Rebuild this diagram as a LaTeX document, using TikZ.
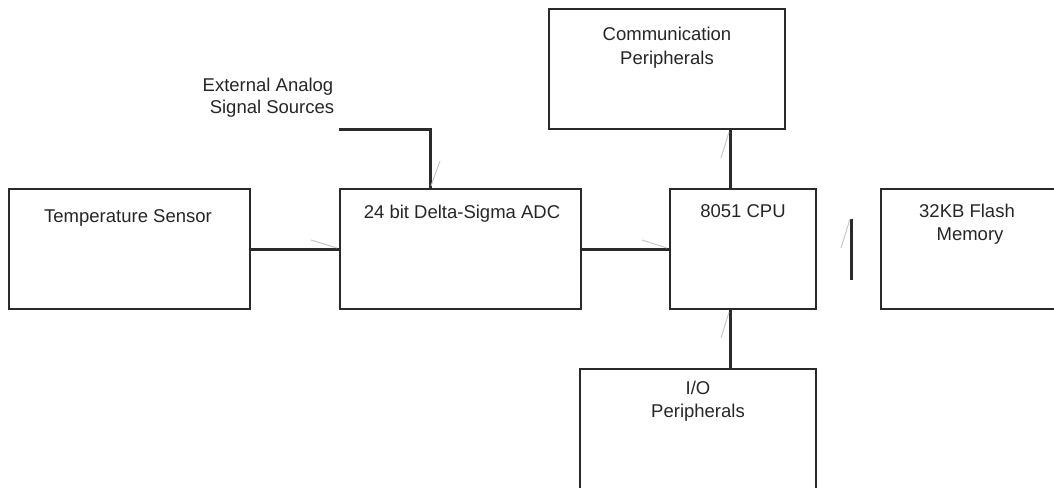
\documentclass[tikz,border=0pt]{standalone}
\usepackage{fontspec}
\setmainfont{Liberation Sans}
\begin{document}
\begin{tikzpicture}[x=1pt,y=-1pt,
  box/.style={draw=linec,line width=2pt,rectangle,inner sep=0pt},
  txt/.style={anchor=base,inner sep=0pt,font=\fontsize{18.5}{23}\selectfont,text=textc},
  conn/.style={draw=linec,line width=3pt},
  tick/.style={draw=black!22,line width=1pt}]
\definecolor{linec}{HTML}{2A2A2A}
\definecolor{textc}{HTML}{262626}
\useasboundingbox (0,0) rectangle (1054,487);
\clip (0,0) rectangle (1054,487);
% boxes
\node[box,minimum width=241pt,minimum height=120pt] (temp) at (129.5,249) {};
\node[box,minimum width=241pt,minimum height=120pt] (adc) at (460.5,249) {};
\node[box,minimum width=146pt,minimum height=120pt] (cpu) at (743,249) {};
\node[box,minimum width=180pt,minimum height=120pt] (flash) at (971,249) {};
\node[box,minimum width=236pt,minimum height=120pt] (comm) at (667,69) {};
\node[box,minimum width=236pt,minimum height=160pt] (io) at (698,449) {};
% texts
\node[txt] (ttemp) at (128,222) {Temperature Sensor};
\node[txt] (tadc) at (462,218) {24 bit Delta-Sigma ADC};
\node[txt] (tcpu) at (743,217) {8051 CPU};
\node[txt] (tflash1) at (967,217) {32KB Flash};
\node[txt] (tflash2) at (970,240) {Memory};
\node[txt] (tcomm1) at (667,41) {Communication};
\node[txt] (tcomm2) at (667,64) {Peripherals};
\node[txt] (tio1) at (698,394) {I/O};
\node[txt] (tio2) at (698,417) {Peripherals};
\node[txt] (text1) at (268,91) {External Analog};
\node[txt] (text2) at (272,113) {Signal Sources};
% connectors
\coordinate (extstart) at (339,129);
\coordinate (extcorner) at (430,129);
\draw[conn] (temp.east) -- (adc.west);
\draw[conn] (adc.east) -- (cpu.west);
\draw[conn] (extstart) -- (extcorner) -- (extcorner |- adc.north);
\coordinate (vx) at (730,0);
\draw[conn] (vx |- comm.south) -- (vx |- cpu.north);
\draw[conn] (vx |- cpu.south) -- (vx |- io.north);
\coordinate (bartop) at (851,219);
\coordinate (barbot) at (851,280);
\draw[conn] (bartop) -- (barbot);
% faint tick marks
\draw[tick] (adc.west) ++(-2,-1) -- (311,240);
\draw[tick] (cpu.west) ++(-2,-1) -- (642,240);
\draw[tick] (extcorner |- adc.north) ++(1,-2) -- (440,161);
\draw[tick] (vx |- comm.south) ++(-1,2) -- (721,158);
\draw[tick] (vx |- cpu.south) ++(-1,2) -- (721,338);
\draw[tick] (bartop) ++(-1,0) -- (841,248);
\end{tikzpicture}
\end{document}
